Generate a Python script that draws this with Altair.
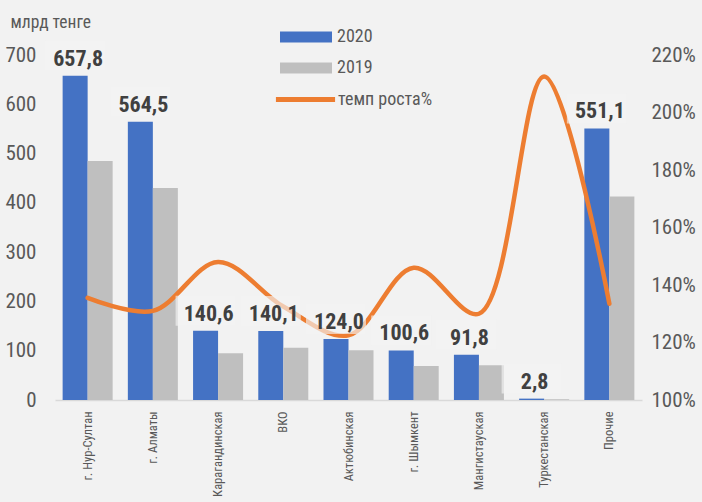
import altair as alt
import pandas as pd

categories = ["г. Нур-Султан", "г. Алматы", "Карагандинская", "ВКО", "Актюбинская",
              "г. Шымкент", "Мангистауская", "Туркестанская", "Прочие"]
values_2020 = [657.8, 564.5, 140.6, 140.1, 124.0, 100.6, 91.8, 2.8, 551.1]
values_2019 = [485, 430, 95, 106, 101, 69, 70.5, 1.3, 413]
growth_pct = [135.5, 131, 148, 132.5, 122.5, 146, 130, 212.5, 133.5]
years = ["2020", "2019"]
left_ticks = [0, 100, 200, 300, 400, 500, 600, 700]
right_ticks = [100, 120, 140, 160, 180, 200, 220]

FONT = "Liberation Sans Narrow, Roboto Condensed, Roboto, sans-serif"
BG = "#f2f2f2"

bars_df = pd.DataFrame(
    [{"cat": c, "year": "2020", "v": v} for c, v in zip(categories, values_2020)]
    + [{"cat": c, "year": "2019", "v": v} for c, v in zip(categories, values_2019)]
)
line_df = pd.DataFrame({"cat": categories, "rate": growth_pct, "series": "темп роста%"})

x_enc = alt.X("cat:N", sort=categories,
              scale=alt.Scale(paddingInner=0.233, paddingOuter=0.117),
              axis=alt.Axis(title=None, labelAngle=-90, labelFontSize=12.5, labelColor="#595959",
                            labelFont=FONT, ticks=False, domainColor="#d9d9d9", domainWidth=1.5,
                            labelPadding=11))
xoff = alt.XOffset("year:N", sort=years, scale=alt.Scale(domain=years))
yscale = alt.Scale(domain=[0, 700], nice=False)

bars = alt.Chart(bars_df).mark_bar().encode(
    x=x_enc,
    xOffset=xoff,
    y=alt.Y("v:Q", scale=yscale,
            axis=alt.Axis(values=left_ticks, grid=False, ticks=False, domain=False,
                          labelFontSize=21, labelColor="#595959", labelFont=FONT, labelPadding=19,
                          title="млрд тенге", titleAngle=0, titleAlign="left",
                          titleBaseline="alphabetic", titleX=-45, titleY=-28,
                          titleFontSize=17.5, titleFontWeight="normal", titleColor="#595959",
                          titleFont=FONT)),
    color=alt.Color("year:N", sort=years,
                    scale=alt.Scale(domain=years, range=["#4472C4", "#BFBFBF"]),
                    legend=alt.Legend(title=None, orient="none", legendX=238, legendY=-31,
                                      symbolType="M-2,-0.42H2V0.42H-2Z", symbolSize=676,
                                      symbolStrokeWidth=0, symbolOpacity=1,
                                      labelFontSize=18, labelColor="#595959", labelFont=FONT,
                                      labelOffset=18, rowPadding=9)),
)

line = alt.Chart(line_df).mark_line(interpolate="catmull-rom", strokeWidth=4.5, strokeCap="round").encode(
    x=alt.X("cat:N", sort=categories),
    y=alt.Y("rate:Q", scale=alt.Scale(domain=[100, 220], nice=False),
            axis=alt.Axis(orient="right", values=right_ticks, grid=False, ticks=False, domain=False,
                          labelExpr="datum.value + '%'", labelFontSize=21, labelColor="#595959",
                          labelFont=FONT, labelPadding=9, title=None)),
    stroke=alt.Stroke("series:N", scale=alt.Scale(domain=["темп роста%"], range=["#ED7D31"]),
                      legend=alt.Legend(title=None, orient="none", legendX=218, legendY=12,
                                        symbolType="stroke", symbolSize=3500, symbolStrokeWidth=5,
                                        labelFontSize=18, labelColor="#595959", labelFont=FONT,
                                        labelOffset=0)),
)

lab_df = bars_df[bars_df["year"] == "2020"]

label_bg = alt.Chart(lab_df).mark_bar(width=60, yOffset=-5, y2Offset=-35, fill=BG, opacity=0.65).encode(
    x=alt.X("cat:N", sort=categories),
    xOffset=xoff,
    y=alt.Y("v:Q", scale=yscale, axis=None),
    y2="v:Q",
)

labels = alt.Chart(lab_df).transform_calculate(
    lbl="replace(format(datum.v, '.1f'), '.', ',')"
).mark_text(fontSize=22, fontWeight="bold", color="#404040", baseline="alphabetic", dy=-10, dx=3,
            font=FONT).encode(
    x=alt.X("cat:N", sort=categories),
    xOffset=xoff,
    y=alt.Y("v:Q", scale=yscale, axis=None),
    text="lbl:N",
)

chart = alt.layer(bars, line, label_bg, labels).resolve_scale(
    y="independent"
).properties(
    width=587, height=345,
    autosize=alt.AutoSizeParams(type="none"),
    padding={"left": 55, "top": 55, "right": 60, "bottom": 102},
    background=BG,
).configure_view(stroke=None)

chart.save("out.html", embed_options={"renderer": "svg", "actions": False})
